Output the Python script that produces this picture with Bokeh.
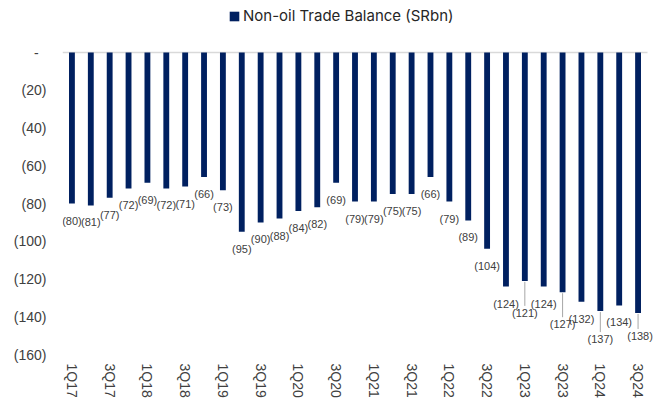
from bokeh.plotting import figure
from bokeh.models import FixedTicker, Legend, LegendItem, ColumnDataSource
from bokeh.embed import file_html
from bokeh.resources import INLINE
from bokeh.core.properties import value

# ---------------- data ----------------
quarters = ["1Q17", "2Q17", "3Q17", "4Q17",
            "1Q18", "2Q18", "3Q18", "4Q18",
            "1Q19", "2Q19", "3Q19", "4Q19",
            "1Q20", "2Q20", "3Q20", "4Q20",
            "1Q21", "2Q21", "3Q21", "4Q21",
            "1Q22", "2Q22", "3Q22", "4Q22",
            "1Q23", "2Q23", "3Q23", "4Q23",
            "1Q24", "2Q24", "3Q24"]
balance = [-80, -81, -77, -72,
           -69, -72, -71, -66,
           -73, -95, -90, -88,
           -84, -82, -69, -79,
           -79, -75, -75, -66,
           -79, -89, -104, -124,
           -121, -124, -127, -132,
           -137, -134, -138]
y_ticks = [0, -20, -40, -60, -80, -100, -120, -140, -160]
y_tick_labels = ["-\u00a0\u00a0", "(20)", "(40)", "(60)", "(80)", "(100)", "(120)", "(140)", "(160)"]
series_name = "Non-oil Trade Balance (SRbn)"

# ---------------- style / layout ----------------
BAR_COLOR = "#002060"
TEXT_COLOR = "#404040"
W, H = 665, 404
BL, BB = 62, 50              # left / bottom borders (px)
PLOT_TOP_PX = 52             # where the zero line sits
PLOT_RIGHT_PX = 647          # right edge of the category area
LABEL_DROP = 17                                   # px below bar end
label_nudge = {24: 15, 26: 15, 28: 11, 30: 6}     # extra px for crowded labels
label_shift = {30: 2}                             # px to the right

n = len(quarters)
idx = list(range(n))

# frame covers the full width/top so texts above/right are not clipped
frame_w = W - BL
frame_h = H - BB
px_per_cat = (PLOT_RIGHT_PX - BL) / n
px_per_unit = (frame_h - PLOT_TOP_PX) / 160.0
x_end = -0.5 + frame_w / px_per_cat
y_end = PLOT_TOP_PX / px_per_unit

p = figure(width=W, height=H, output_backend="svg", toolbar_location=None,
           x_range=(-0.5, x_end), y_range=(-160, y_end),
           min_border_left=BL, min_border_right=0,
           min_border_top=0, min_border_bottom=BB)
p.outline_line_color = None
p.xgrid.visible = False
p.ygrid.visible = False
p.background_fill_color = "white"
p.border_fill_color = "white"

src = ColumnDataSource(dict(
    x=idx, v=balance,
    lbl=["(%d)" % abs(b) for b in balance],
    yoff=[LABEL_DROP + label_nudge.get(i, 0) for i in idx],
    xoff=[label_shift.get(i, 0) for i in idx],
))

# zero line across the category area
p.segment(x0=[-0.5], x1=[n - 0.5], y0=[0], y1=[0], line_color="#D9D9D9", line_width=1.5)

bars = p.vbar(x="x", top=0, bottom="v", width=0.31, source=src,
              fill_color=BAR_COLOR, line_color=None)

# leader lines for displaced labels
lx = [i for i in idx if i in label_nudge]
ly0 = [balance[i] - 1.0 / px_per_unit for i in lx]
ly1 = [balance[i] - (LABEL_DROP + label_nudge[i] - 7) / px_per_unit for i in lx]
p.segment(x0=lx, x1=lx, y0=ly0, y1=ly1, line_color="#A6A6A6", line_width=1)

p.text(x="x", y="v", text="lbl", source=src, x_offset="xoff", y_offset="yoff",
       text_align="center", text_baseline="middle",
       text_font=value("Liberation Sans"), text_font_size="11px",
       text_color=TEXT_COLOR)

# y axis
ya = p.yaxis[0]
ya.ticker = FixedTicker(ticks=y_ticks)
ya.major_label_overrides = dict(zip(y_ticks, y_tick_labels))
ya.axis_line_color = None
ya.major_tick_line_color = None
ya.minor_tick_line_color = None
ya.major_tick_out = 0
ya.major_tick_in = 0
ya.major_label_standoff = 16
ya.major_label_text_font = "Liberation Sans"
ya.major_label_text_font_size = "14px"
ya.major_label_text_color = TEXT_COLOR

# x axis
xa = p.xaxis[0]
xa.ticker = FixedTicker(ticks=idx[::2])
xa.major_label_overrides = {i: quarters[i] for i in idx[::2]}
xa.major_label_orientation = "vertical"
xa.axis_line_color = None
xa.major_tick_line_color = None
xa.minor_tick_line_color = None
xa.major_tick_out = 0
xa.major_tick_in = 0
xa.major_label_standoff = 9
xa.major_label_text_font = "Liberation Sans"
xa.major_label_text_font_size = "14px"
xa.major_label_text_color = TEXT_COLOR

legend = Legend(items=[LegendItem(label=series_name, renderers=[bars])],
                orientation="horizontal", location=(228 - BL, frame_h - 25),
                glyph_width=12, glyph_height=12, label_standoff=3,
                label_text_font="Inter", label_text_font_size="15px",
                label_text_color="#262626", label_height=18,
                border_line_color=None, background_fill_alpha=0,
                padding=0, margin=0, spacing=0)
p.add_layout(legend)

open("out.html", "w").write(file_html(p, INLINE))
